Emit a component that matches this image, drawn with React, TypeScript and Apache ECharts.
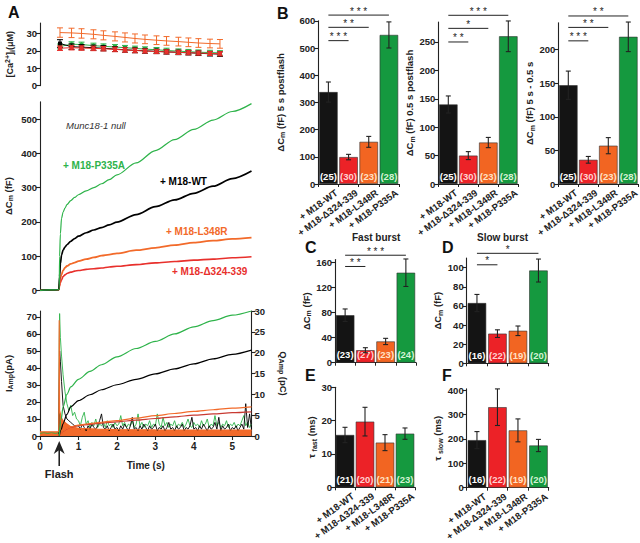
import React, { useEffect, useRef } from 'react';
import * as echarts from 'echarts';

const FONT = '"Liberation Sans", Arial, sans-serif';

// ---------- shared categories / colours ----------
const GROUPS = ['+ M18-WT', '+ M18-Δ324-339', '+ M18-L348R', '+ M18-P335A'];
const BAR_COLORS = ['#141414', '#ec2227', '#f26522', '#15993f'];
const N_COLORS = ['#ffffff', '#ffd0d0', '#ffe2c6', '#d4f2d4'];
const LINE_GREEN = '#2eb34a';
const LINE_BLACK = '#000000';
const LINE_ORANGE = '#f26a2a';
const LINE_RED = '#e8302c';
const LINE_RED_Q = '#c83a32';

// ---------- Panel A: [Ca2+]i ----------
const CA_T = [0.52, 0.82, 1.08, 1.39, 1.65, 1.95, 2.21, 2.47, 2.73, 3.03, 3.29, 3.6, 3.86, 4.12, 4.42, 4.68];
const CA_L348R = [30.5, 30.3, 30.0, 29.5, 28.9, 28.3, 27.7, 27.1, 26.6, 26.1, 25.7, 25.3, 24.9, 24.5, 24.2, 24.0];
const CA_L348R_ERR = [2.7, 2.7, 2.7, 2.6, 2.6, 2.6, 2.6, 2.6, 2.5, 2.5, 2.5, 2.5, 2.5, 2.5, 2.5, 2.5];
const CA_WT = [24.2, 22.4, 22.1, 21.8, 21.5, 21.0, 20.6, 20.3, 20.0, 19.7, 19.4, 19.1, 18.9, 18.6, 18.3, 18.1];
const CA_WT_ERR = [2.2, 1.6, 1.5, 1.5, 1.5, 1.4, 1.4, 1.4, 1.4, 1.3, 1.3, 1.3, 1.3, 1.3, 1.3, 1.3];
const CA_P335A = [22.5, 23.8, 23.6, 23.0, 22.6, 22.2, 21.8, 21.4, 21.0, 20.6, 20.2, 19.8, 19.5, 19.2, 19.0, 18.8];
const CA_P335A_ERR = [1.4, 1.4, 1.4, 1.4, 1.4, 1.4, 1.3, 1.3, 1.3, 1.3, 1.3, 1.3, 1.3, 1.3, 1.3, 1.3];
const CA_D324 = [21.5, 21.8, 21.6, 21.4, 21.2, 20.8, 20.5, 20.2, 19.9, 19.6, 19.4, 19.1, 18.9, 18.7, 18.5, 18.3];
const CA_D324_ERR = [1.3, 1.3, 1.3, 1.3, 1.3, 1.3, 1.3, 1.3, 1.2, 1.2, 1.2, 1.2, 1.2, 1.2, 1.2, 1.2];
const CA_TICKS = [0, 10, 20, 30];

// ---------- Panel A: ΔCm traces ----------
const CM_T = [0, 0.25, 0.49, 0.5, 0.51, 0.53, 0.56, 0.6, 0.65, 0.7, 0.8, 0.9, 1.0, 1.2, 1.4, 1.6, 1.8, 2.0, 2.5, 3.0, 3.5, 4.0, 4.5, 5.0, 5.5];
const CM_P335A = [0, 1, 2, 5, 100, 165, 210, 228, 240, 250, 262, 271, 279, 290, 300, 311, 323, 337, 372, 408, 440, 470, 497, 522, 545];
const CM_WT = [0, 1, 2, 3, 40, 78, 103, 117, 126, 133, 143, 151, 158, 168, 176, 183, 191, 199, 221, 244, 264, 283, 304, 326, 348];
const CM_L348R = [0, 1, 2, 3, 20, 35, 46, 58, 66, 71, 77, 81, 85, 91, 96, 101, 104, 108, 117, 124, 132, 139, 145, 150, 154];
const CM_D324 = [0, 1, 2, 3, 12, 22, 30, 40, 45, 49, 53, 56, 58, 61, 63, 65, 68, 70, 75, 80, 84, 88, 91, 95, 98];
const CM_TICKS = [0, 100, 200, 300, 400, 500];

// ---------- Panel A: amperometry ----------
const Q_T = [0.5, 0.55, 0.6, 0.7, 0.8, 1.0, 1.3, 1.6, 2.0, 2.5, 3.0, 3.5, 4.0, 4.5, 5.0, 5.5];
const Q_P335A = [0, 4, 7, 10, 11.8, 13.6, 15.5, 17.1, 19, 21, 22.7, 24.5, 26.2, 27.7, 29, 30];
const Q_WT = [0, 1.5, 3, 5.2, 7, 8.5, 9.9, 11.1, 12.3, 13.6, 14.9, 16.1, 17.3, 18.5, 19.6, 20.6];
const Q_L348R = [0, 0.6, 1.2, 1.8, 2.2, 2.6, 3.0, 3.3, 3.7, 4.3, 4.9, 5.4, 5.9, 6.3, 6.7, 7.0];
const Q_D324 = [0, 0.6, 1.1, 1.7, 2.1, 2.5, 2.8, 3.1, 3.4, 3.8, 4.2, 4.6, 5.0, 5.3, 5.6, 5.8];

const I_T_EARLY = [0, 0.1, 0.2, 0.3, 0.4, 0.49, 0.5, 0.51, 0.53, 0.56, 0.6, 0.65, 0.7, 0.75, 0.8, 0.85, 0.9, 0.95];
const I_P335A_EARLY = [1.5, 2, 1.5, 2, 1.5, 2, 55, 72, 58, 47, 36, 26, 19, 15, 18, 12, 14, 10];
const I_WT_EARLY = [1, 1, 1, 1, 1, 1, 30, 50, 44, 32, 18, 13, 10, 9, 8, 7, 6, 6];
const NOISE_T = [
  1.0, 1.05, 1.1, 1.15, 1.2, 1.25, 1.3, 1.35, 1.4, 1.45,
  1.5, 1.55, 1.6, 1.65, 1.7, 1.75, 1.8, 1.85, 1.9, 1.95,
  2.0, 2.05, 2.1, 2.15, 2.2, 2.25, 2.3, 2.35, 2.4, 2.45,
  2.5, 2.55, 2.6, 2.65, 2.7, 2.75, 2.8, 2.85, 2.9, 2.95,
  3.0, 3.05, 3.1, 3.15, 3.2, 3.25, 3.3, 3.35, 3.4, 3.45,
  3.5, 3.55, 3.6, 3.65, 3.7, 3.75, 3.8, 3.85, 3.9, 3.95,
  4.0, 4.05, 4.1, 4.15, 4.2, 4.25, 4.3, 4.35, 4.4, 4.45,
  4.5, 4.55, 4.6, 4.65, 4.7, 4.75, 4.8, 4.85, 4.9, 4.95,
  5.0, 5.05, 5.1, 5.15, 5.2, 5.25, 5.3, 5.35, 5.4, 5.45, 5.5,
];
const I_P335A_NOISE = [
  9, 6, 11, 14, 7, 9, 5, 8, 6, 10,
  5, 7, 6, 8, 5, 9, 6, 7, 5, 8,
  6, 7, 12, 6, 8, 5, 7, 6, 9, 5,
  7, 13, 6, 8, 5, 7, 6, 9, 5, 7,
  6, 13, 7, 5, 11, 6, 8, 5, 7, 6,
  9, 5, 7, 6, 8, 5, 7, 10, 6, 5,
  8, 6, 7, 5, 9, 6, 7, 10, 5, 7,
  6, 12, 6, 8, 5, 7, 6, 9, 5, 7,
  6, 8, 5, 7, 6, 9, 12, 6, 8, 5, 7,
];
const I_WT_NOISE = [
  6, 4, 7, 5, 3, 6, 4, 7, 5, 4,
  6, 9, 13, 5, 4, 6, 3, 5, 7, 4,
  5, 3, 6, 4, 7, 5, 3, 6, 11, 4,
  5, 3, 6, 4, 7, 5, 3, 6, 4, 5,
  7, 3, 5, 4, 6, 3, 5, 8, 4, 5,
  3, 6, 4, 5, 7, 3, 5, 4, 6, 11,
  4, 5, 3, 6, 4, 7, 5, 3, 6, 4,
  5, 8, 4, 11, 3, 6, 4, 5, 7, 3,
  5, 4, 6, 3, 5, 7, 4, 19, 5, 13, 4,
];
const I_L348R_T = [0, 0.49, 0.5, 0.51, 0.55, 0.6, 0.7, 0.8, 1.0, 1.5, 2.0, 3.0, 4.0, 5.0, 5.5];
const I_L348R = [2.5, 2.5, 68, 15, 11, 9, 7, 5.5, 4.5, 4, 3.8, 3.6, 3.5, 3.5, 3.5];
const I_TICKS = [0, 10, 20, 30, 40, 50, 60, 70];
const Q_TICKS = [0, 5, 10, 15, 20, 25, 30];
const TIME_TICKS = [0, 1, 2, 3, 4, 5];
const FLASH_T = [0.5];

// ---------- Panels B-F: bars ----------
const B1_MEAN = [338, 99, 155, 548];
const B1_SEM = [37, 10, 20, 48];
const B1_N = [25, 30, 23, 28];
const B1_SIG = [[0, 3, 621], [0, 2, 576], [0, 1, 527]];
const B1_SIG_TXT = ['* * *', '* *', '* * *'];

const B2_MEAN = [140, 50, 73, 260];
const B2_SEM = [15, 7, 9, 27];
const B2_N = [25, 30, 23, 28];
const B2_SIG = [[0, 3, 297], [0, 2, 274], [0, 1, 250]];
const B2_SIG_TXT = ['* * *', '*', '* *'];

const B3_MEAN = [147, 36, 57, 219];
const B3_SEM = [21, 5, 12, 22];
const B3_N = [25, 30, 23, 28];
const B3_SIG = [[0, 3, 250], [0, 2, 233], [0, 1, 213]];
const B3_SIG_TXT = ['* *', '* *', '* * *'];

const C_MEAN = [76, 20, 34, 144];
const C_SEM = [10, 4, 5, 22];
const C_N = [23, 27, 23, 24];
const C_SIG = [[0, 3, 172], [0, 1, 154]];
const C_SIG_TXT = ['* * *', '* *'];

const D_MEAN = [63, 31, 34, 97];
const D_SEM = [9, 4, 5, 12];
const D_N = [16, 22, 19, 20];
const D_SIG = [[0, 3, 115], [0, 1, 103]];
const D_SIG_TXT = ['*', '*'];

const E_MEAN = [15.7, 19.7, 13.4, 16.1];
const E_SEM = [2.3, 4.3, 2.4, 1.7];
const E_N = [21, 20, 21, 23];

const F_MEAN = [195, 330, 235, 173];
const F_SEM = [35, 75, 47, 25];
const F_N = [16, 22, 19, 20];

const B1_TICKS = [0, 100, 200, 300, 400, 500, 600];
const B2_TICKS = [0, 50, 100, 150, 200, 250];
const B3_TICKS = [0, 50, 100, 150, 200];
const C_TICKS = [0, 40, 80, 120, 160];
const D_TICKS = [0, 20, 40, 60, 80, 100];
const E_TICKS = [0, 10, 20, 30];
const F_TICKS = [0, 100, 200, 300, 400];

// ---------- styles ----------
const AX_COLOR = '#222';
const AX_LINE = { show: true, lineStyle: { color: AX_COLOR, width: 1.1 } };
const tick = (vals: number[]) => ({ show: true, length: 4, customValues: vals, lineStyle: { color: AX_COLOR, width: 1.1 } });
const lbl = (vals: number[] | null, size = 9.5) => {
  const o: any = { fontFamily: FONT, fontSize: size, fontWeight: 'bold', color: AX_COLOR, margin: 3 };
  if (vals) o.customValues = vals;
  return o;
};
const RICH = {
  sub: { fontFamily: FONT, fontSize: 7, fontWeight: 'bold', color: AX_COLOR, verticalAlign: 'bottom', lineHeight: 12 },
  sup: { fontFamily: FONT, fontSize: 7, fontWeight: 'bold', color: AX_COLOR, verticalAlign: 'top', lineHeight: 12 },
};
const nameStyle = (size = 9.5) => ({ fontFamily: FONT, fontSize: size, fontWeight: 'bold', color: AX_COLOR, rich: RICH });

function errRender(color: string, cap: number, width = 1) {
  return (params: any, api: any) => {
    const x = api.value(0), m = api.value(1), e = api.value(2);
    const t = api.coord([x, m + e]);
    const b = api.coord([x, m - e]);
    const st = { stroke: color, lineWidth: width };
    return {
      type: 'group',
      children: [
        { type: 'line', shape: { x1: t[0], y1: t[1], x2: b[0], y2: b[1] }, style: st },
        { type: 'line', shape: { x1: t[0] - cap, y1: t[1], x2: t[0] + cap, y2: t[1] }, style: st },
        { type: 'line', shape: { x1: b[0] - cap, y1: b[1], x2: b[0] + cap, y2: b[1] }, style: st },
      ],
    };
  };
}

function sigRender(texts: string[]) {
  return (params: any, api: any) => {
    const a = api.coord([api.value(0), api.value(2)]);
    const b = api.coord([api.value(1), api.value(2)]);
    return {
      type: 'group',
      children: [
        { type: 'line', shape: { x1: a[0], y1: a[1], x2: b[0], y2: b[1] }, style: { stroke: AX_COLOR, lineWidth: 1 } },
        {
          type: 'text',
          style: {
            text: texts[params.dataIndex], x: (a[0] + b[0]) / 2, y: a[1] - 4,
            align: 'center', verticalAlign: 'middle', fontSize: 10, fontFamily: FONT, fill: AX_COLOR,
          },
        },
      ],
    };
  };
}

const ROT = (36 * Math.PI) / 180;
function catLabelRender(params: any, api: any) {
  const p = api.coord([api.value(0), 0]);
  return {
    type: 'text',
    x: p[0] + 5,
    y: p[1] + 3.5,
    rotation: ROT,
    style: {
      text: GROUPS[params.dataIndex], x: 0, y: 0, align: 'right', verticalAlign: 'top',
      fontSize: 9.5, fontWeight: 'bold', fontFamily: FONT, fill: AX_COLOR,
    },
  };
}

const pairs = (t: number[], v: number[]) => t.map((x, i) => [x, v[i]]);

function buildOption() {
  const grid: any[] = [];
  const xAxis: any[] = [];
  const yAxis: any[] = [];
  const series: any[] = [];

  // ---- A top: Ca ----
  grid.push({ left: 40, top: 23, width: 211.5, height: 62.6 });
  xAxis.push({ gridIndex: 0, type: 'value', min: 0, max: 5.5, show: false });
  yAxis.push({
    gridIndex: 0, type: 'value', min: 0, max: 36, axisLine: AX_LINE, axisTick: tick(CA_TICKS),
    axisLabel: lbl(CA_TICKS), splitLine: { show: false },
    name: '[Ca{sup|2+}]{sub|i}(μM)', nameLocation: 'middle', nameGap: 24, nameTextStyle: nameStyle(9),
  });
  const caSets: [number[], number[], string, string][] = [
    [CA_P335A, CA_P335A_ERR, LINE_GREEN, 'rect'],
    [CA_WT, CA_WT_ERR, LINE_BLACK, 'rect'],
    [CA_D324, CA_D324_ERR, LINE_RED, 'rect'],
    [CA_L348R, CA_L348R_ERR, LINE_ORANGE, 'none'],
  ];
  caSets.forEach(([vals, errs, color, sym], k) => {
    series.push({
      type: 'custom', xAxisIndex: 0, yAxisIndex: 0, encode: { x: 0, y: 1 },
      data: CA_T.map((t, i) => [t, vals[i], errs[i]]), renderItem: errRender(color, 3), z: 2 + k * 2,
    });
    series.push({
      type: 'line', xAxisIndex: 0, yAxisIndex: 0, data: pairs(CA_T, vals), symbol: sym, symbolSize: 4,
      showSymbol: sym !== 'none', lineStyle: { color, width: 1 }, itemStyle: { color }, z: 3 + k * 2,
    });
  });

  // ---- A middle: ΔCm ----
  grid.push({ left: 40, top: 101.9, width: 211.5, height: 188.4 });
  xAxis.push({ gridIndex: 1, type: 'value', min: 0, max: 5.5, show: false });
  yAxis.push({
    gridIndex: 1, type: 'value', min: 0, max: 550, axisLine: AX_LINE, axisTick: tick(CM_TICKS),
    axisLabel: lbl(CM_TICKS), splitLine: { show: false },
    name: 'ΔC{sub|m} (fF)', nameLocation: 'middle', nameGap: 26, nameTextStyle: nameStyle(9.5),
  });
  const cmSets: [number[], string, number][] = [
    [CM_D324, LINE_RED, 1.6],
    [CM_L348R, LINE_ORANGE, 1.8],
    [CM_WT, LINE_BLACK, 1.7],
    [CM_P335A, LINE_GREEN, 1.2],
  ];
  cmSets.forEach(([vals, color, w]) => {
    series.push({
      type: 'line', xAxisIndex: 1, yAxisIndex: 1, data: pairs(CM_T, vals), showSymbol: false,
      smooth: 0.3, smoothMonotone: 'x', lineStyle: { color, width: w },
    });
  });

  // ---- A bottom: amperometry ----
  grid.push({ left: 40, top: 311, width: 211.5, height: 125 });
  xAxis.push({
    gridIndex: 2, type: 'value', min: 0, max: 5.5, offset: 2, axisLine: AX_LINE, axisTick: tick(TIME_TICKS),
    axisLabel: lbl(TIME_TICKS, 10), splitLine: { show: false },
    name: 'Time (s)', nameLocation: 'middle', nameGap: 22, nameTextStyle: nameStyle(10),
  });
  yAxis.push({
    gridIndex: 2, type: 'value', min: 0, max: 73.5, axisLine: AX_LINE, axisTick: tick(I_TICKS),
    axisLabel: lbl(I_TICKS), splitLine: { show: false },
    name: 'I{sub|Amp}(pA)', nameLocation: 'middle', nameGap: 26, nameTextStyle: nameStyle(9.5),
  });
  yAxis.push({
    gridIndex: 2, type: 'value', position: 'right', min: 0, max: 30, axisLine: AX_LINE, axisTick: tick(Q_TICKS),
    axisLabel: lbl(Q_TICKS), splitLine: { show: false },
    name: 'Q{sub|Amp} (pC)', nameLocation: 'middle', nameGap: 26, nameRotate: -90, nameTextStyle: nameStyle(9.5),
  });
  const greenI = pairs(I_T_EARLY, I_P335A_EARLY).concat(pairs(NOISE_T, I_P335A_NOISE));
  const blackI = pairs(I_T_EARLY.slice(5), I_WT_EARLY.slice(5)).concat(pairs(NOISE_T, I_WT_NOISE));
  series.push({
    type: 'line', xAxisIndex: 2, yAxisIndex: 2, data: greenI, showSymbol: false,
    lineStyle: { color: LINE_GREEN, width: 0.9 },
  });
  series.push({
    type: 'line', xAxisIndex: 2, yAxisIndex: 2, data: blackI, showSymbol: false,
    lineStyle: { color: LINE_BLACK, width: 0.9 },
  });
  series.push({
    type: 'line', xAxisIndex: 2, yAxisIndex: 2, data: pairs(I_L348R_T, I_L348R), showSymbol: false,
    lineStyle: { color: LINE_ORANGE, width: 1.2 }, areaStyle: { color: LINE_ORANGE, opacity: 1 },
  });
  const qSets: [number[], string][] = [
    [Q_D324, LINE_RED_Q], [Q_L348R, LINE_ORANGE], [Q_WT, LINE_BLACK], [Q_P335A, LINE_GREEN],
  ];
  qSets.forEach(([vals, color]) => {
    series.push({
      type: 'line', xAxisIndex: 2, yAxisIndex: 3, data: pairs(Q_T, vals), showSymbol: false,
      smooth: 0.3, smoothMonotone: 'x', lineStyle: { color, width: 1.2 }, z: 4,
    });
  });
  // Flash arrow
  series.push({
    type: 'custom', xAxisIndex: 2, yAxisIndex: 2, data: FLASH_T.map((t) => [t, 0]), encode: { x: 0, y: 1 },
    clip: false, z: 6,
    renderItem: (params: any, api: any) => {
      const p = api.coord([api.value(0), 0]);
      return {
        type: 'group',
        children: [
          { type: 'line', shape: { x1: p[0], y1: p[1] + 12, x2: p[0], y2: p[1] + 30 }, style: { stroke: '#222', lineWidth: 1.6 } },
          {
            type: 'polygon',
            shape: { points: [[p[0], p[1] + 5], [p[0] - 5.5, p[1] + 18], [p[0], p[1] + 14], [p[0] + 5.5, p[1] + 18]] },
            style: { fill: '#222' },
          },
          {
            type: 'text',
            style: { text: 'Flash', x: p[0], y: p[1] + 38, align: 'center', verticalAlign: 'middle', fontSize: 11, fontWeight: 'bold', fontFamily: FONT, fill: '#222' },
          },
        ],
      };
    },
  });

  // ---- bar panels ----
  const panels: any[] = [
    { left: 318.3, top: 20.8, width: 80.7, height: 163.2, max: 600, ticks: B1_TICKS, mean: B1_MEAN, sem: B1_SEM, n: B1_N, sig: B1_SIG, sigTxt: B1_SIG_TXT, name: 'ΔC{sub|m} (fF) 5 s postflash', gap: 32, cats: true },
    { left: 438.3, top: 22.1, width: 80, height: 161.9, max: 285, ticks: B2_TICKS, mean: B2_MEAN, sem: B2_SEM, n: B2_N, sig: B2_SIG, sigTxt: B2_SIG_TXT, name: 'ΔC{sub|m} (fF) 0.5 s postflash', gap: 19, cats: true },
    { left: 558.3, top: 22.7, width: 80, height: 161.3, max: 240, ticks: B3_TICKS, mean: B3_MEAN, sem: B3_SEM, n: B3_N, sig: B3_SIG, sigTxt: B3_SIG_TXT, name: 'ΔC{sub|m} (fF) 5 s - 0.5 s', gap: 22, cats: true },
    { left: 335, top: 259.6, width: 81, height: 103.1, max: 165, ticks: C_TICKS, mean: C_MEAN, sem: C_SEM, n: C_N, sig: C_SIG, sigTxt: C_SIG_TXT, name: 'ΔC{sub|m} (fF)', gap: 14, cats: false },
    { left: 466.7, top: 258.1, width: 82, height: 105.2, max: 110, ticks: D_TICKS, mean: D_MEAN, sem: D_SEM, n: D_N, sig: D_SIG, sigTxt: D_SIG_TXT, name: 'ΔC{sub|m} (fF)', gap: 15, cats: false },
    { left: 335, top: 387.3, width: 80, height: 100, max: 30, ticks: E_TICKS, mean: E_MEAN, sem: E_SEM, n: E_N, sig: null, sigTxt: null, name: 'τ {sub|fast} (ms)', gap: 15, cats: true },
    { left: 466.7, top: 388.9, width: 82, height: 98.8, max: 405, ticks: F_TICKS, mean: F_MEAN, sem: F_SEM, n: F_N, sig: null, sigTxt: null, name: 'τ {sub|slow} (ms)', gap: 19, cats: true },
  ];
  panels.forEach((p) => {
    const gi = grid.length;
    const xi = xAxis.length;
    const yi = yAxis.length;
    grid.push({ left: p.left, top: p.top, width: p.width, height: p.height });
    xAxis.push({
      gridIndex: gi, type: 'category', data: GROUPS, axisLine: AX_LINE,
      axisTick: { show: true, length: 3, interval: 0, lineStyle: { color: AX_COLOR, width: 1 } },
      axisLabel: { show: false },
    });
    yAxis.push({
      gridIndex: gi, type: 'value', min: 0, max: p.max, axisLine: AX_LINE, axisTick: tick(p.ticks),
      axisLabel: lbl(p.ticks, 9.5), splitLine: { show: false },
      name: p.name, nameLocation: 'middle', nameGap: p.gap, nameTextStyle: nameStyle(9.5),
    });
    const n = p.n;
    series.push({
      type: 'bar', xAxisIndex: xi, yAxisIndex: yi, barWidth: 18.5,
      data: p.mean.map((v: number, i: number) => ({
        value: v, itemStyle: { color: BAR_COLORS[i], borderColor: '#333', borderWidth: 0.6 }, label: { color: N_COLORS[i] },
      })),
      label: {
        show: true, position: 'insideBottom', distance: 3, fontFamily: FONT, fontSize: 9.5, fontWeight: 'bold',
        formatter: (q: any) => '(' + n[q.dataIndex] + ')',
      },
    });
    series.push({
      type: 'custom', xAxisIndex: xi, yAxisIndex: yi, encode: { x: 0, y: 1 }, z: 5,
      data: p.mean.map((v: number, i: number) => [i, v, p.sem[i]]), renderItem: errRender('#222', 2.5, 1.1),
    });
    if (p.sig) {
      series.push({
        type: 'custom', xAxisIndex: xi, yAxisIndex: yi, encode: { x: [0, 1], y: 2 }, clip: false, z: 5,
        data: p.sig, renderItem: sigRender(p.sigTxt),
      });
    }
    if (p.cats) {
      series.push({
        type: 'custom', xAxisIndex: xi, yAxisIndex: yi, encode: { x: 0, y: 1 }, clip: false, z: 5,
        data: GROUPS.map((g, i) => [i, 0]), renderItem: catLabelRender,
      });
    }
  });

  const letter = (t: string, x: number, y: number) => ({
    type: 'text', left: x, top: y, style: { text: t, fontSize: 16, fontWeight: 'bold', fontFamily: FONT, fill: '#111' },
  });
  const label = (t: string, x: number, y: number, color: string, italic = false) => ({
    type: 'text', left: x, top: y,
    style: { text: t, fontSize: italic ? 9.5 : 10, fontWeight: italic ? 'normal' : 'bold', fontStyle: italic ? 'italic' : 'normal', fontFamily: FONT, fill: color },
  });
  const graphic = [
    letter('A', 8, 4), letter('B', 277, 5), letter('C', 305, 239), letter('D', 442, 239), letter('E', 305, 367), letter('F', 442, 367),
    label('Munc18-1 null', 66, 120, '#333', true),
    label('+ M18-P335A', 63, 160, LINE_GREEN),
    label('+ M18-WT', 160, 176, '#000'),
    label('+ M18-L348R', 166, 226, LINE_ORANGE),
    label('+ M18-Δ324-339', 172, 266, LINE_RED),
    { type: 'text', left: 352, top: 232, style: { text: 'Fast burst', fontSize: 10, fontWeight: 'bold', fontFamily: FONT, fill: '#222' } },
    { type: 'text', left: 477, top: 232, style: { text: 'Slow burst', fontSize: 10, fontWeight: 'bold', fontFamily: FONT, fill: '#222' } },
  ];

  return { animation: false, backgroundColor: '#fff', grid, xAxis, yAxis, series, graphic };
}

export default function App() {
  const ref = useRef<HTMLDivElement>(null);
  useEffect(() => {
    const chart = echarts.init(ref.current as HTMLDivElement, null, { renderer: 'svg' });
    chart.setOption(buildOption() as any);
    return () => chart.dispose();
  }, []);
  return <div ref={ref} style={{ position: 'absolute', left: 0, top: 0, width: 640, height: 543, background: '#fff' }} />;
}
